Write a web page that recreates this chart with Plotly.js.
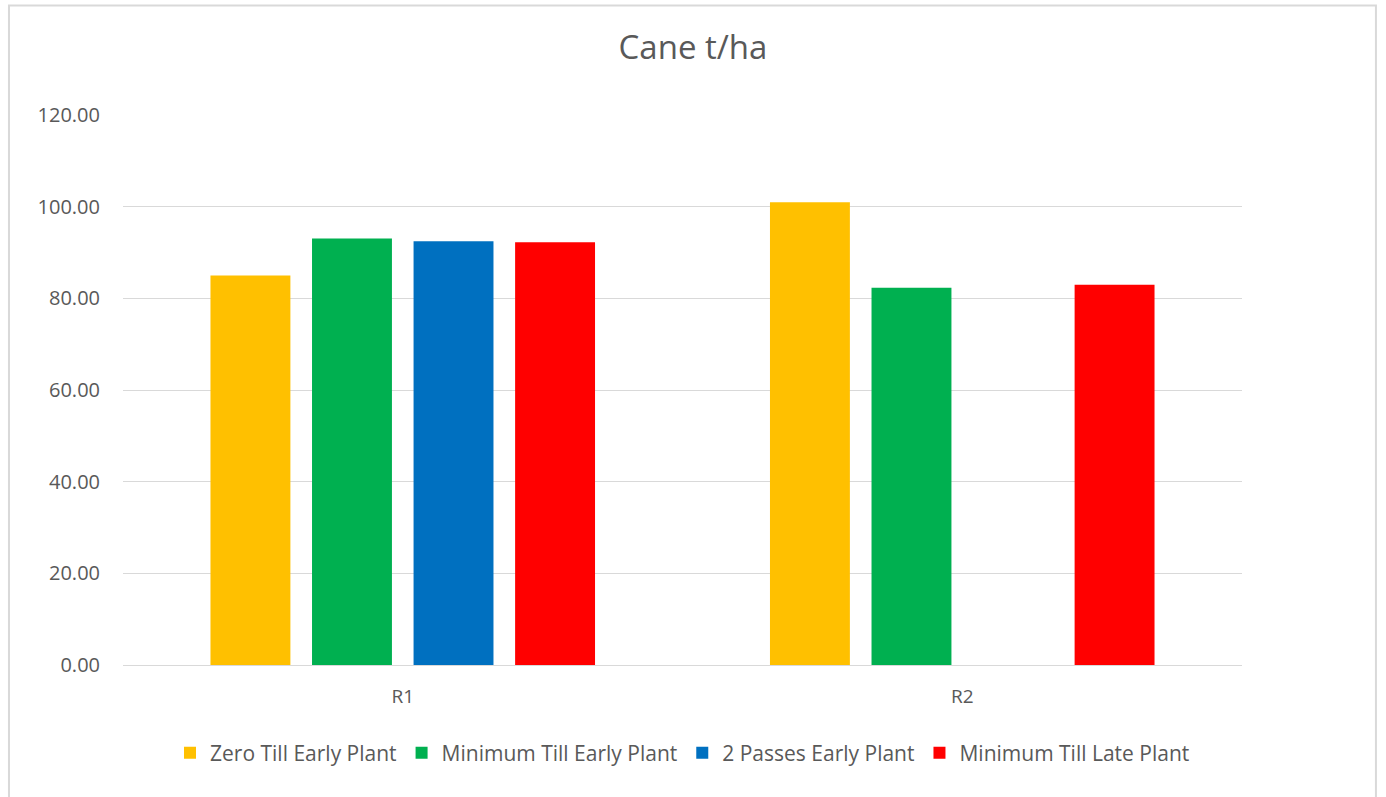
<!DOCTYPE html>
<html>
<head>
<meta charset="utf-8">
<script src="https://cdn.plot.ly/plotly-3.0.1.min.js"></script>
<style>
  html, body { margin: 0; padding: 0; background: #fff; }
  #chart { width: 1386px; height: 797px; }
</style>
</head>
<body>
<div id="chart"></div>
<script>
const categories = ['R1', 'R2'];
const zeroTillEarly = [85.0, 100.98];
const minTillEarly = [93.07, 82.3];
const twoPassesEarly = [92.48, null];
const minTillLate = [92.26, 82.96];

const seriesNames = ['Zero Till Early Plant', 'Minimum Till Early Plant', '2 Passes Early Plant', 'Minimum Till Late Plant'];
const seriesValues = [zeroTillEarly, minTillEarly, twoPassesEarly, minTillLate];
const seriesColors = ['#FFC000', '#00B050', '#0070C0', '#FF0000'];

const traces = seriesNames.map((name, i) => ({
    x: categories,
    y: seriesValues[i],
    name: name,
    type: 'bar',
    marker: { color: seriesColors[i] },
    hoverinfo: 'x+y+name'
}));

const textColor = '#595959';
const gridColor = '#d9d9d9';

const layout = {
    width: 1386,
    height: 797,
    font: { family: 'Open Sans, sans-serif', color: textColor, size: 19 },
    title: {
        text: 'Cane t/ha',
        font: { size: 33, color: textColor },
        x: 0.5, xanchor: 'center',
        y: 0.94, yanchor: 'middle'
    },
    margin: { l: 123, r: 144, t: 115, b: 132 },
    barmode: 'group',
    bargap: 0.274,
    bargroupgap: 0.213,
    xaxis: {
        type: 'category',
        showgrid: false,
        showline: true,
        linecolor: gridColor,
        linewidth: 1,
        ticks: '',
        tickfont: { size: 19, color: textColor },
        ticklabelstandoff: 14
    },
    yaxis: {
        range: [0, 120],
        dtick: 20,
        tickformat: '.2f',
        showgrid: true,
        gridcolor: gridColor,
        gridwidth: 1,
        zeroline: true,
        zerolinecolor: gridColor,
        showline: false,
        ticks: '',
        ticklabelstandoff: 22,
        tickfont: { size: 20, color: textColor }
    },
    legend: {
        orientation: 'h',
        x: 0.5, xanchor: 'center',
        y: -0.16, yanchor: 'middle',
        font: { size: 21, color: textColor },
        itemwidth: 30,
        traceorder: 'normal'
    },
    shapes: [{
        type: 'rect',
        xref: 'paper', yref: 'paper',
        x0: -0.1019, x1: 1.1197,
        y0: -0.26, y1: 1.1993,
        line: { color: gridColor, width: 2 },
        fillcolor: 'rgba(0,0,0,0)',
        layer: 'below'
    }],
    paper_bgcolor: '#ffffff',
    plot_bgcolor: '#ffffff'
};

Plotly.newPlot('chart', traces, layout, { displayModeBar: false });
</script>
</body>
</html>
